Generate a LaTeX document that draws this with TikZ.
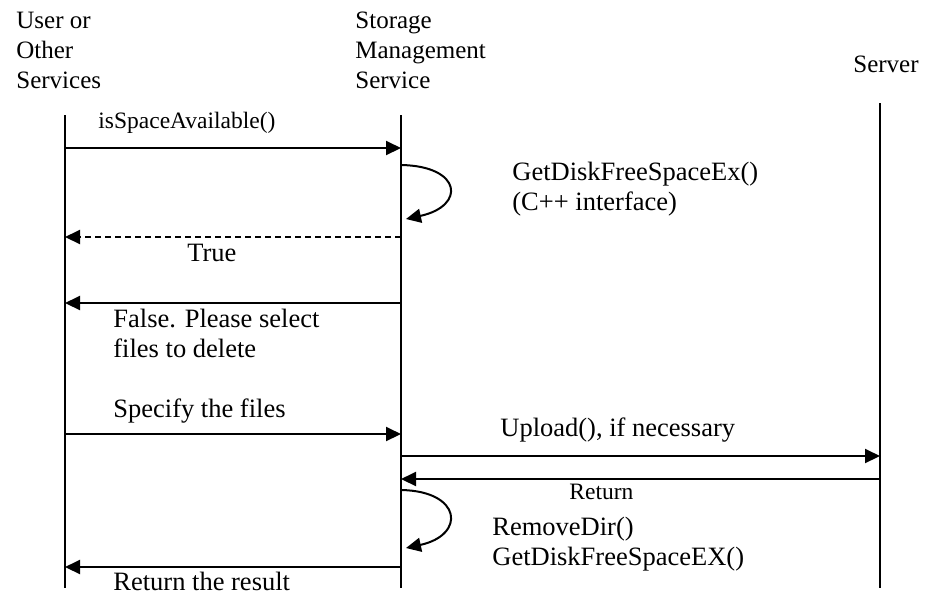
\documentclass[tikz,border=0pt]{standalone}
\usepackage{fontspec}
\setmainfont{Liberation Serif}
\usetikzlibrary{arrows.meta}
\tikzset{
  lbl/.style={anchor=base west, inner sep=0pt, align=left, font=\fontsize{13.25}{15}\selectfont},
  headlbl/.style={lbl, font=\fontsize{12.5}{15}\selectfont},
  smalllbl/.style={lbl, font=\fontsize{11.75}{14}\selectfont},
  life/.style={line width=1pt},
  msg/.style={line width=1pt, -{Triangle[length=7.5pt, width=7pt]}},
  reply/.style={msg, dash pattern=on 3pt off 2pt},
}
\begin{document}
\begin{tikzpicture}[x=0.5pt, y=-0.5pt]
		%%%%% START %%%%%
		\useasboundingbox (0,0) rectangle (925,601);
		
		% base of a node with several lines = its last line
		\node[headlbl] (user) at (16,88) {User or\\Other\\Services};
		\node[headlbl] (sms) at (355,88) {Storage\\Management\\Service};
		\node[headlbl] (server) at (853,72) {Server};
		
		\coordinate (user top) at (65,115);
		\coordinate (user bot) at (65,588);
		\coordinate (sms top) at (401,115);
		\coordinate (sms bot) at (401,588);
		\coordinate (server top) at (880,103);
		\coordinate (server bot) at (880,588);
		\draw[life] (user top) -- (user bot);
		\draw[life] (sms top) -- (sms bot);
		\draw[life] (server top) -- (server bot);
		
		% isSpaceAvailable
		\coordinate (ask u) at (65,148);
		\coordinate (ask s) at (401,148);
		\draw[msg] (ask u) -- (ask s);
		\node[smalllbl] (ask) at (98,128) {isSpaceAvailable()};
		
		\coordinate (chk a) at (401,165);
		\coordinate (chk b) at (406,219);
		\draw[msg] (chk a) .. controls (462,166) and (466,206) .. (chk b);
		\node[lbl] (chk) at (512,210) {GetDiskFreeSpaceEx()\\(C++ interface)};
		
		\coordinate (yes s) at (401,237);
		\coordinate (yes u) at (65,237);
		\draw[reply] (yes s) -- (yes u);
		\node[lbl] (yes) at (187,261) {True};
		
		\coordinate (no s) at (401,303);
		\coordinate (no u) at (65,303);
		\draw[msg] (no s) -- (no u);
		\node[lbl] (no) at (113,357) {False. Please select\\files to delete};
		
		% delete
		\coordinate (files u) at (65,434);
		\coordinate (files s) at (401,434);
		\draw[msg] (files u) -- (files s);
		\node[lbl] (files) at (113,417) {Specify the files};
		
		\coordinate (up s) at (401,456);
		\coordinate (up v) at (880,456);
		\draw[msg] (up s) -- (up v);
		\node[lbl] (up) at (500,436) {Upload(), if necessary};
		
		\coordinate (ret v) at (880,479);
		\coordinate (ret s) at (401,479);
		\draw[msg] (ret v) -- (ret s);
		\node[smalllbl] (ret) at (569,499) {Return};
		
		\coordinate (rm a) at (401,490);
		\coordinate (rm b) at (406,548);
		\draw[msg] (rm a) .. controls (462,491) and (466,535) .. (rm b);
		\node[lbl] (rm) at (492,565) {RemoveDir()\\GetDiskFreeSpaceEX()};
		
		\coordinate (res s) at (401,567);
		\coordinate (res u) at (65,567);
		\draw[msg] (res s) -- (res u);
		\node[lbl] (res) at (113,590) {Return the result};
		
		%%%%% END %%%%%
	\end{tikzpicture}
\end{document}
